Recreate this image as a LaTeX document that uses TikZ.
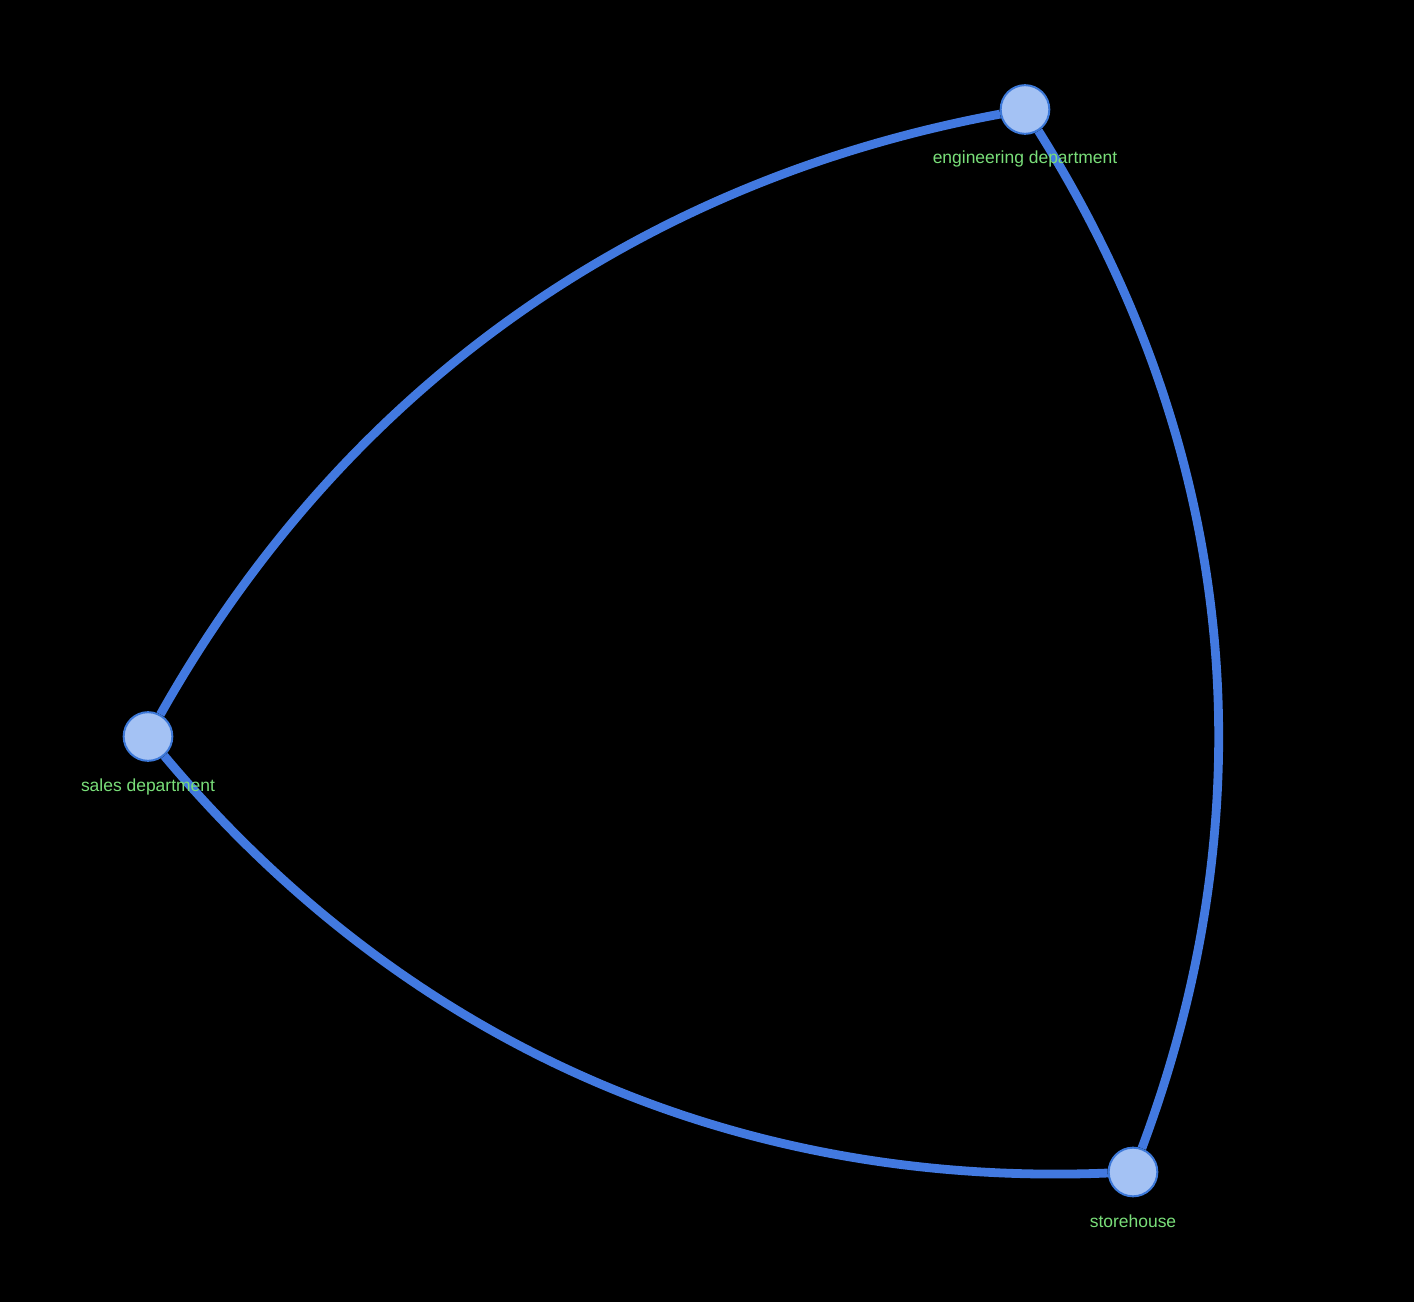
\documentclass[tikz,border=0pt]{standalone}
\usepackage{fontspec}
\setmainfont{Liberation Sans}
\usetikzlibrary{calc}
\pgfdeclarelayer{bg}
\pgfdeclarelayer{edges}
\pgfsetlayers{bg,edges,main}
\definecolor{edgeblue}{HTML}{4279E0}
\definecolor{nodefill}{HTML}{A4C2F4}
\definecolor{nodedraw}{HTML}{3C78D8}
\definecolor{labgreen}{HTML}{79DE79}
\tikzset{
  vertex/.style={circle, fill=nodefill, draw=nodedraw, line width=1.5pt, minimum size=36.5pt, inner sep=0pt},
  vlabel/.style={text=labgreen, font=\fontsize{13.1pt}{15pt}\selectfont, anchor=base, inner sep=0pt},
  link/.style={draw=edgeblue, line width=6.6pt}
}
\begin{document}
\begin{tikzpicture}[x=0.75pt, y=-0.75pt]
\begin{pgfonlayer}{bg}
\fill[black] (0,0) rectangle (1414,1302);
\end{pgfonlayer}
\useasboundingbox (0,0) rectangle (1414,1302);
\node[vertex] (eng) at (1025,109.5) {};
\node[vertex] (sales) at (148,736.5) {};
\node[vertex] (store) at (1133,1172) {};
\coordinate (q1) at (439.8,217.9);
\coordinate (q2) at (1341.7,614.1);
\coordinate (q3) at (533.8,1196.1);
\begin{pgfonlayer}{edges}
\draw[link] (sales) .. controls ($(sales)!2/3!(q1)$) and ($(eng)!2/3!(q1)$) .. (eng);
\draw[link] (eng) .. controls ($(eng)!2/3!(q2)$) and ($(store)!2/3!(q2)$) .. (store);
\draw[link] (sales) .. controls ($(sales)!2/3!(q3)$) and ($(store)!2/3!(q3)$) .. (store);
\end{pgfonlayer}
\node[vlabel] (engl) at (1025,164) {engineering department};
\node[vlabel] (salesl) at (148,791.5) {sales department};
\node[vlabel] (storel) at (1133,1227) {storehouse};
\end{tikzpicture}
\end{document}
